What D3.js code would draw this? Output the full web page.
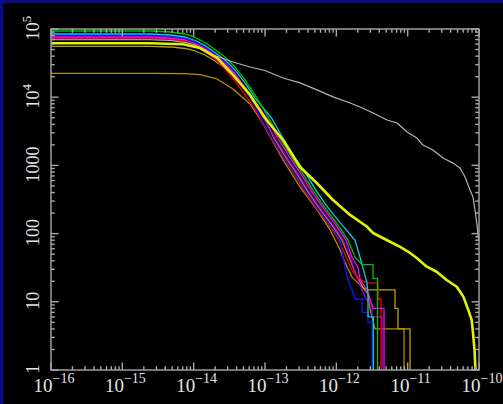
<!DOCTYPE html>
<html><head><meta charset="utf-8">
<script src="https://cdn.jsdelivr.net/npm/d3@7"></script>
<style>html,body{margin:0;padding:0;background:#000;}svg{display:block;}</style>
</head><body>
<svg id="chart" width="503" height="404"></svg>
<script>
// ---- tick labels ----
const xTickValues = [1e-16, 1e-15, 1e-14, 1e-13, 1e-12, 1e-11, 1e-10];
const xTickExponents = ["\u221216", "\u221215", "\u221214", "\u221213", "\u221212", "\u221211", "\u221210"];
const yTickValues = [1, 10, 100, 1000, 1e4, 1e5];
const yTickBases = ["1", "10", "100", "1000", "10", "10"];
const yTickExponents = ["", "", "", "", "4", "5"];

// ---- series values [x, N(>x)] ----
const olivelow = [[1e-16,22400],[2.44e-15,22400],[7.6e-15,22200],[1.23e-14,21500],[2.12e-14,18500],[3.56e-14,13200],[6.16e-14,7950],[9.08e-14,4330],[1.25e-13,2360],[1.79e-13,1200],[3.1e-13,482],[5.36e-13,223],[8.15e-13,114],[1.126e-12,58],[1.32e-12,38],[1.66e-12,23],[2.37e-12,16],[2.78e-12,13],[2.97e-12,8],[3.16e-12,6],[3.49e-12,4],[8.9e-12,4],[8.9e-12,1]];
const olive = [[1e-16,55700],[2.44e-15,55700],[4.7e-15,54500],[7.6e-15,51800],[1.05e-14,47600],[1.44e-14,41600],[1.99e-14,33900],[2.75e-14,26800],[3.8e-14,19800],[5.24e-14,13200],[7.24e-14,8220],[1e-13,4790],[1.34e-13,2500],[1.97e-13,1300],[2.81e-13,750],[3.88e-13,430],[5.53e-13,250],[8.4e-13,140],[1.2e-12,80],[1.51e-12,45],[1.89e-12,25],[2.37e-12,16],[2.78e-12,15],[6.65e-12,15],[6.65e-12,8],[7.33e-12,8],[7.33e-12,4],[1.08e-11,4],[1.08e-11,1]];
const purple = [[1e-16,72000],[2.44e-15,72000],[4.7e-15,69700],[7.6e-15,65100],[1.05e-14,58300],[1.44e-14,49200],[1.99e-14,38900],[2.75e-14,29700],[3.8e-14,20500],[5.24e-14,13200],[7.24e-14,7950],[9.52e-14,5000],[1.38e-13,2500],[2.03e-13,1300],[2.9e-13,750],[4.01e-13,430],[5.71e-13,250],[8.7e-13,140],[1.24e-12,80],[1.56e-12,45],[1.89e-12,25],[2.29e-12,15],[2.61e-12,11],[3.17e-12,9],[3.17e-12,6],[4.37e-12,6],[4.37e-12,1]];
const red = [[1e-16,73800],[2.44e-15,73800],[4.7e-15,71300],[7.6e-15,65600],[1.05e-14,57300],[1.44e-14,47600],[1.99e-14,36300],[2.75e-14,25900],[3.8e-14,17300],[5.24e-14,10800],[7.24e-14,6710],[8.37e-14,5000],[1.21e-13,2500],[1.79e-13,1300],[2.55e-13,750],[3.52e-13,430],[5.02e-13,250],[7.64e-13,140],[1.09e-12,80],[1.37e-12,45],[1.66e-12,29],[2.01e-12,22],[2.69e-12,19],[3.84e-12,19],[3.84e-12,11],[4.23e-12,11],[4.23e-12,1]];
const blue = [[1e-16,80300],[2.44e-15,80300],[4.7e-15,77600],[7.6e-15,72600],[1.05e-14,64500],[1.44e-14,54500],[1.99e-14,43000],[2.75e-14,32800],[3.8e-14,22600],[5.24e-14,13600],[7.24e-14,7430],[8.65e-14,5000],[1.25e-13,2500],[1.85e-13,1300],[2.63e-13,750],[3.64e-13,430],[5.19e-13,250],[7.89e-13,140],[1.13e-12,80],[1.24e-12,45],[1.46e-12,21],[1.66e-12,15],[1.83e-12,11],[2.29e-12,11],[2.29e-12,7],[2.78e-12,7],[2.78e-12,5],[3.17e-12,5],[3.17e-12,1]];
const magenta = [[1e-16,76300],[2.44e-15,76300],[4.7e-15,73800],[7.6e-15,69000],[1.05e-14,61300],[1.44e-14,51800],[1.99e-14,40900],[2.75e-14,31200],[3.8e-14,21900],[5.24e-14,14100],[7.24e-14,8500],[1.05e-13,5000],[1.52e-13,2500],[2.24e-13,1300],[3.2e-13,750],[4.41e-13,430],[6.3e-13,250],[9.58e-13,140],[1.37e-12,80],[1.66e-12,45],[2.01e-12,32],[2.15e-12,21],[2.69e-12,15],[2.97e-12,11],[3.27e-12,8],[4.66e-12,8],[4.66e-12,1]];
const cyan = [[1e-16,84500],[2.44e-15,84500],[4.7e-15,81700],[7.6e-15,76300],[1.05e-14,67800],[1.44e-14,57300],[1.99e-14,45200],[2.75e-14,35100],[3.8e-14,25100],[5.24e-14,16200],[7.24e-14,9700],[1.23e-13,5000],[1.79e-13,2500],[2.63e-13,1300],[3.76e-13,750],[5.19e-13,430],[7.4e-13,250],[1.16e-12,140],[1.83e-12,80],[2.15e-12,45],[2.29e-12,35],[2.69e-12,19],[2.78e-12,13],[2.78e-12,6],[3.3e-12,6],[3.3e-12,1]];
const green = [[1e-16,93500],[2.44e-15,93500],[4.7e-15,90400],[7.6e-15,84500],[1.05e-14,75100],[1.44e-14,63400],[1.99e-14,50100],[2.75e-14,38900],[3.8e-14,27700],[5.24e-14,17900],[7.24e-14,10800],[1.12e-13,5000],[1.62e-13,2500],[2.39e-13,1300],[3.41e-13,750],[4.71e-13,430],[6.72e-13,250],[1.02e-12,140],[1.46e-12,80],[1.83e-12,45],[2.29e-12,35],[3.27e-12,35],[3.27e-12,22],[3.78e-12,22],[3.78e-12,1]];
const gray = [[1e-16,69600],[2.44e-15,69600],[4.7e-15,67800],[7.6e-15,63400],[1.05e-14,58300],[1.44e-14,49200],[1.87e-14,41600],[3.56e-14,32800],[6.16e-14,27700],[1e-13,24600],[1.79e-13,19100],[3.1e-13,16200],[5.36e-13,12800],[8.97e-13,10100],[1.56e-12,8220],[2.15e-12,7180],[3.27e-12,5870],[5.14e-12,4630],[7.1e-12,4190],[9.8e-12,3090],[1.35e-11,2520],[1.64e-11,1990],[2.26e-11,1680],[3.13e-11,1280],[4.32e-11,1080],[5.42e-11,916],[6.37e-11,676],[7.48e-11,436],[8.24e-11,344],[8.79e-11,222],[9.37e-11,134],[9.85e-11,80]];
const yellow = [[1e-16,61700],[2.44e-15,61700],[7.1e-15,59700],[1.23e-14,52600],[2.12e-14,37600],[3.56e-14,21200],[6.16e-14,10800],[1e-13,4950],[1.79e-13,2360],[3.1e-13,948],[5.31e-13,552],[8.97e-13,311],[1.56e-12,188],[2.67e-12,127],[3.27e-12,102],[5.66e-12,76],[7.82e-12,64],[1.08e-11,52],[1.34e-11,43.9],[1.85e-11,32.7],[2.55e-11,27.6],[3.52e-11,20.9],[4.87e-11,16.6],[6.03e-11,11.9],[7.08e-11,7.6],[7.91e-11,5.4],[8.24e-11,3.5],[8.65e-11,1.96],[8.93e-11,1]];

const series = [
  {data: olivelow, color: "#b88c00", width: 1.3},
  {data: olive,    color: "#b8a200", width: 1.3},
  {data: purple,   color: "#a000d8", width: 1.3},
  {data: red,      color: "#f00000", width: 1.3},
  {data: blue,     color: "#1414ff", width: 1.3},
  {data: magenta,  color: "#ff00ff", width: 1.3},
  {data: cyan,     color: "#00d4d4", width: 1.3},
  {data: green,    color: "#00c000", width: 1.3},
  {data: gray,     color: "#b4b4b4", width: 1.2},
  {data: yellow,   color: "#e2f200", width: 2.6}
];

// ---- layout ----
const W = 503, H = 404;
const L = 51, R = 479, T = 29, B = 370;
const svg = d3.select("#chart");

svg.append("rect").attr("x",0).attr("y",0).attr("width",W).attr("height",H).attr("fill","#000");
svg.append("rect").attr("x",0).attr("y",0).attr("width",W).attr("height",3).attr("fill","#0a0a86");
svg.append("rect").attr("x",0).attr("y",0).attr("width",3.5).attr("height",H).attr("fill","#0a0a86");

const x = d3.scaleLog().domain([1e-16, 1e-10]).range([L, R]);
const y = d3.scaleLog().domain([1, 1e5]).range([B, T]);

svg.append("clipPath").attr("id","plotclip").append("rect")
  .attr("x", L).attr("y", T).attr("width", R - L).attr("height", B - T);

const line = d3.line().x(d => x(d[0])).y(d => y(d[1]));
const g = svg.append("g").attr("clip-path","url(#plotclip)");
series.forEach(s => {
  g.append("path").attr("d", line(s.data)).attr("fill","none")
    .attr("stroke", s.color).attr("stroke-width", s.width)
    .attr("stroke-linejoin","round");
});

// ---- frame & ticks ----
const axisColor = "#a8a8a8";
const ax = svg.append("g").attr("stroke", axisColor).attr("stroke-width", 1.4).attr("fill","none");
ax.append("rect").attr("x", L).attr("y", T).attr("width", R - L).attr("height", B - T);

const xTicks = [];
for (let e = -16; e < -10; e++) for (let m = 1; m <= 9; m++) xTicks.push({v: m * Math.pow(10, e), major: m === 1});
xTicks.push({v: 1e-10, major: true});
const yTicks = [];
for (let e = 0; e < 5; e++) for (let m = 1; m <= 9; m++) yTicks.push({v: m * Math.pow(10, e), major: m === 1});
yTicks.push({v: 1e5, major: true});

const tl = d => d.major ? 7.5 : 3.8;
ax.selectAll(".xb").data(xTicks).enter().append("line")
  .attr("x1", d => x(d.v)).attr("x2", d => x(d.v)).attr("y1", B).attr("y2", d => B - tl(d));
ax.selectAll(".xt").data(xTicks).enter().append("line")
  .attr("x1", d => x(d.v)).attr("x2", d => x(d.v)).attr("y1", T).attr("y2", d => T + tl(d));
ax.selectAll(".yl").data(yTicks).enter().append("line")
  .attr("y1", d => y(d.v)).attr("y2", d => y(d.v)).attr("x1", L).attr("x2", d => L + tl(d));
ax.selectAll(".yr").data(yTicks).enter().append("line")
  .attr("y1", d => y(d.v)).attr("y2", d => y(d.v)).attr("x1", R).attr("x2", d => R - tl(d));

// ---- labels ----
const font = "'Liberation Serif', 'Times New Roman', serif";
const labColor = "#e4e4e4";
xTickValues.forEach((v, i) => {
  const t = svg.append("text").attr("x", x(v) + 3).attr("y", 392)
    .attr("text-anchor","middle").attr("font-family", font).attr("font-size", 19).attr("fill", labColor);
  t.append("tspan").text("10");
  t.append("tspan").attr("font-size", 14).attr("dy", -9).text(xTickExponents[i]);
});
yTickValues.forEach((v, i) => {
  const t = svg.append("text").attr("transform", `translate(38.5,${y(v) - 1})rotate(-90)`)
    .attr("text-anchor","middle").attr("font-family", font).attr("font-size", 18).attr("fill", labColor);
  t.append("tspan").text(yTickBases[i]);
  if (yTickExponents[i]) t.append("tspan").attr("font-size", 13).attr("dy", -8).text(yTickExponents[i]);
});
</script>
</body></html>
